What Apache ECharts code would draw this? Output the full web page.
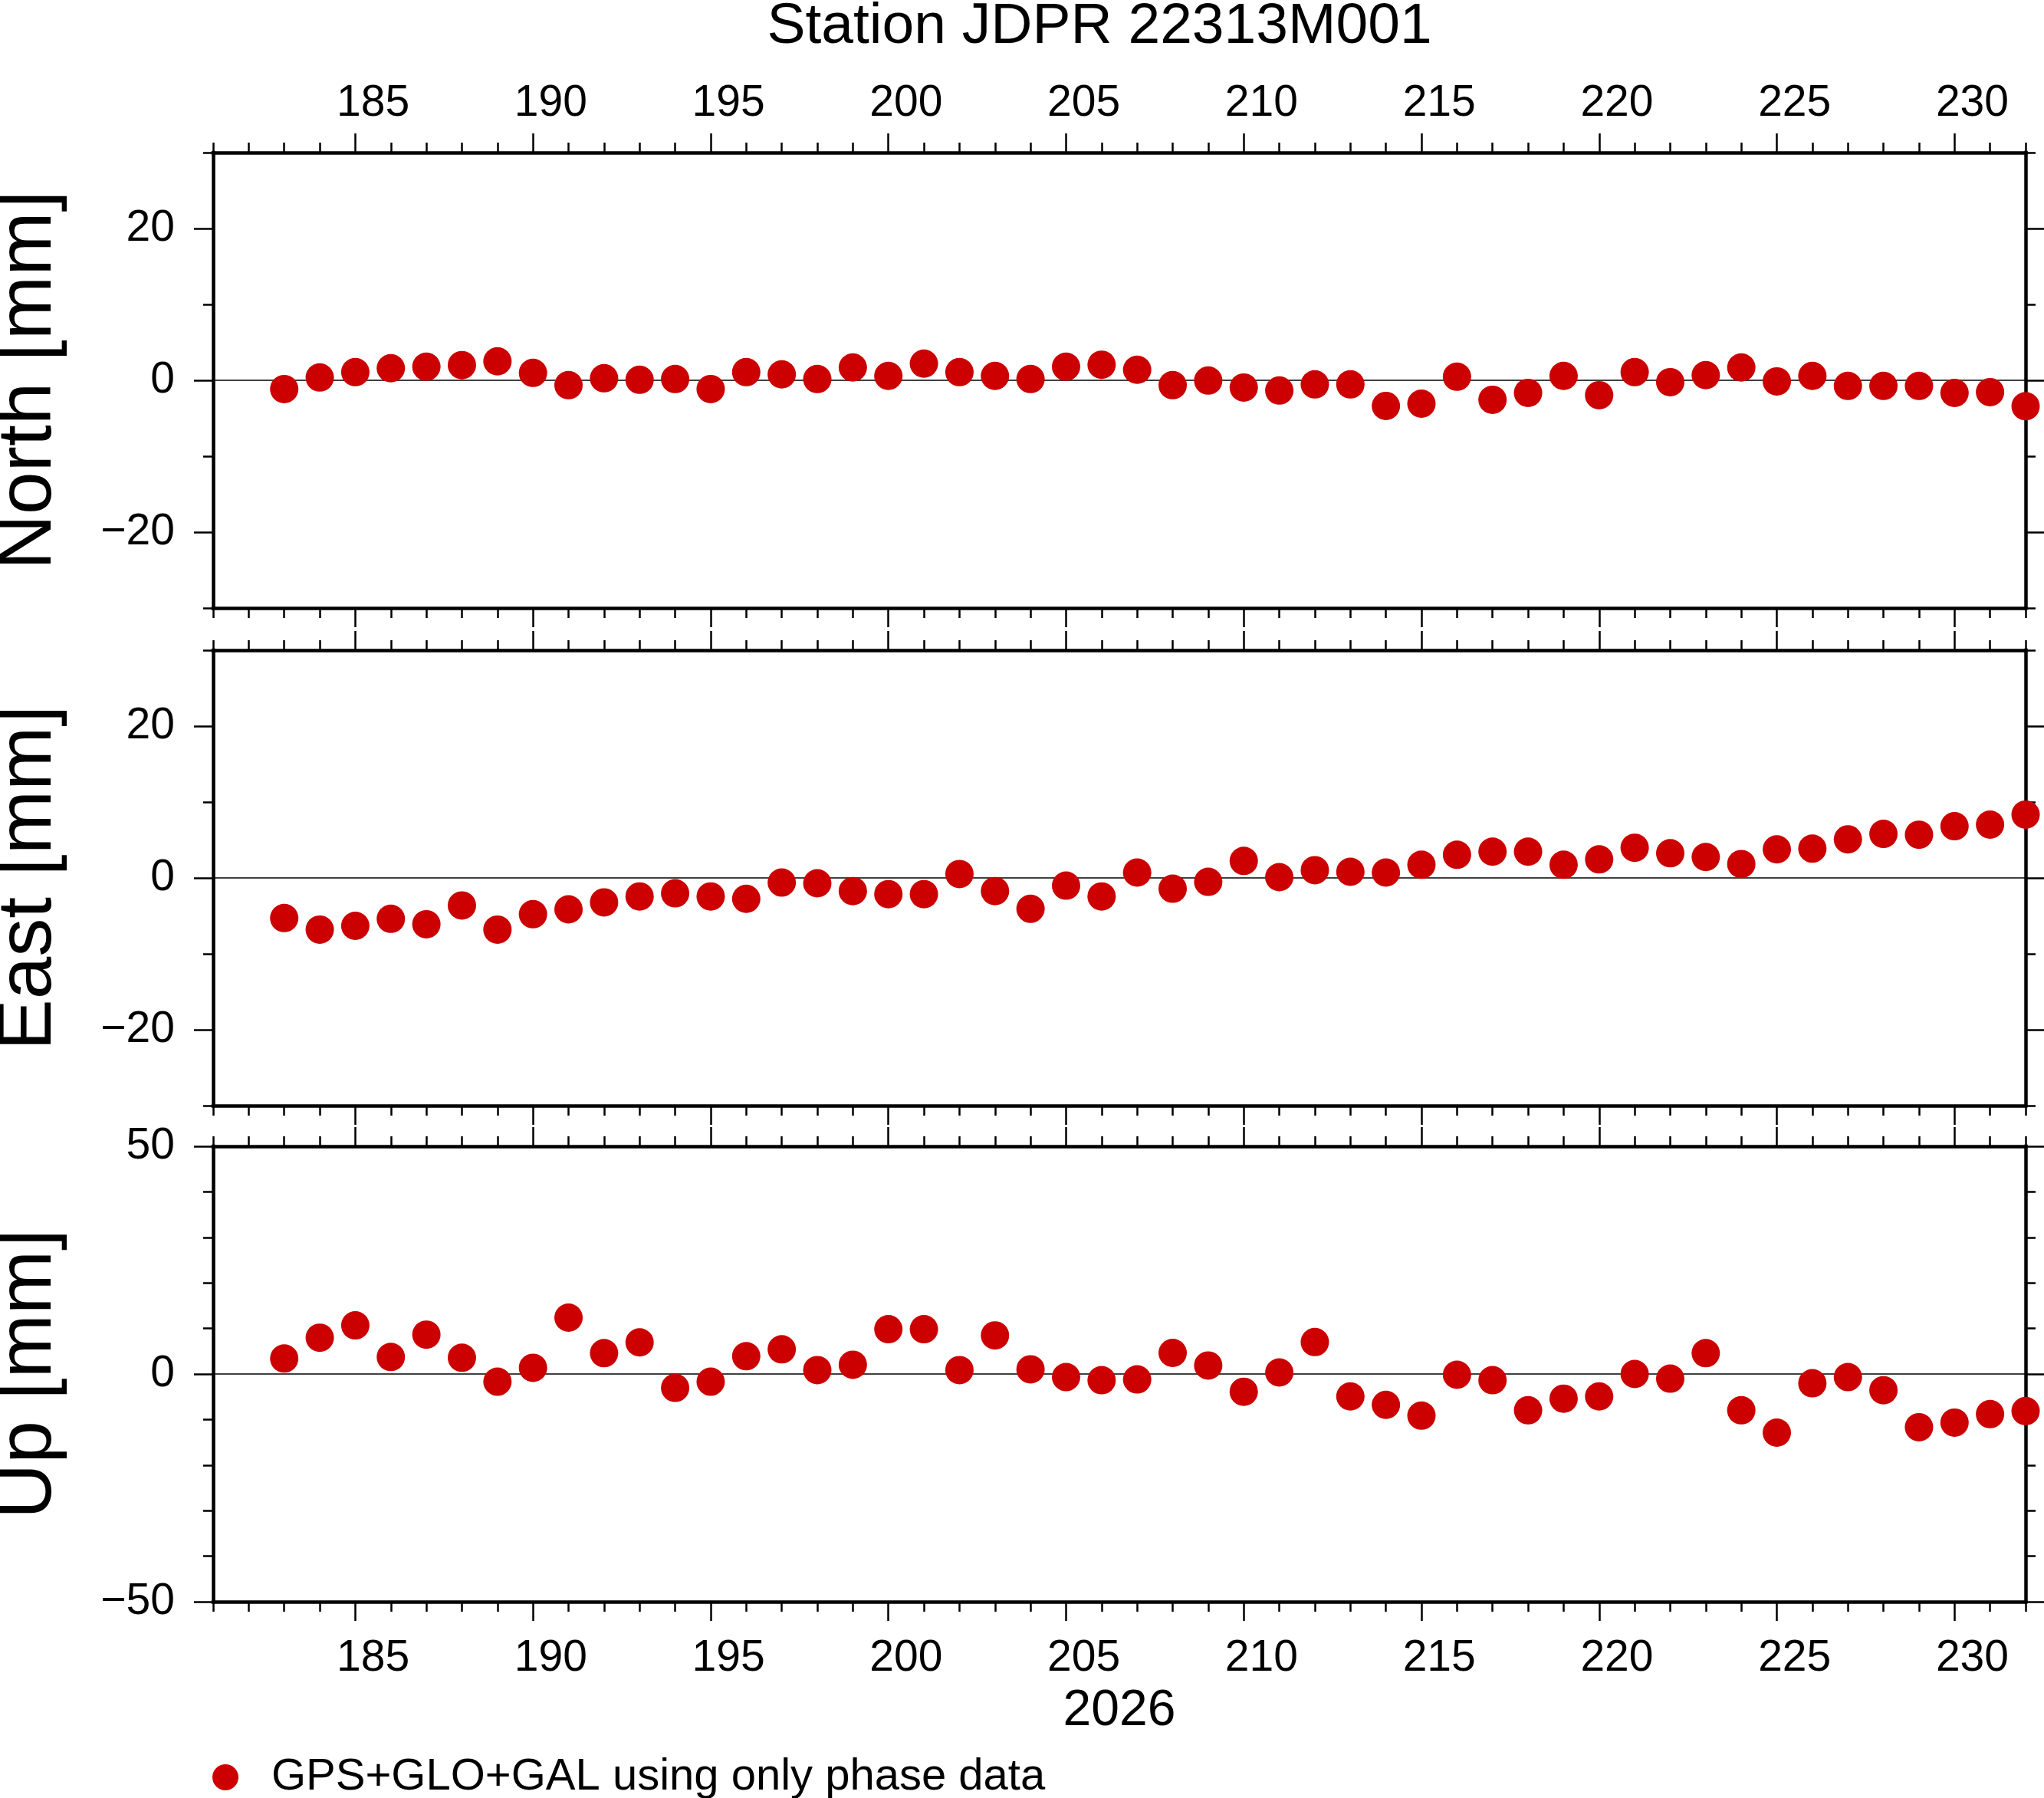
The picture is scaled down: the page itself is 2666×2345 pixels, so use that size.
<!DOCTYPE html>
<html>
<head>
<meta charset="utf-8">
<script src="https://cdn.jsdelivr.net/npm/echarts@6/dist/echarts.min.js"></script>
<style>
html, body { margin: 0; padding: 0; background: #fff; }
#chart { width: 2666px; height: 2345px; }
</style>
</head>
<body>
<div id="chart"></div>
<script>
// day of year 2026
var days = [183, 184, 185, 186, 187, 188, 189, 190, 191, 192,
            193, 194, 195, 196, 197, 198, 199, 200, 201, 202,
            203, 204, 205, 206, 207, 208, 209, 210, 211, 212,
            213, 214, 215, 216, 217, 218, 219, 220, 221, 222,
            223, 224, 225, 226, 227, 228, 229, 230, 231, 232];

// residuals in mm
var north = [-1.15, 0.37, 1.08, 1.59, 1.79, 2.0, 2.5, 0.98, -0.64, 0.27,
             0.07, 0.17, -1.15, 1.08, 0.78, 0.17, 1.69, 0.58, 2.2, 1.08,
             0.58, 0.17, 1.79, 2.05, 1.39, -0.64, -0.03, -0.95, -1.35, -0.54,
             -0.54, -3.38, -3.08, 0.47, -2.57, -1.66, 0.58, -1.96, 1.08, -0.24,
             0.68, 1.69, -0.14, 0.58, -0.74, -0.74, -0.74, -1.66, -1.56, -3.42];
var east = [-5.29, -6.81, -6.31, -5.39, -6.1, -3.63, -6.81, -4.78, -4.14, -3.22,
            -2.44, -2.03, -2.44, -2.75, -0.61, -0.71, -1.73, -2.14, -2.14, 0.51,
            -1.73, -4.07, -1.02, -2.44, 0.71, -1.42, -0.51, 2.24, 0.1, 1.02,
            0.81, 0.71, 1.73, 3.05, 3.46, 3.46, 1.73, 2.44, 3.97, 3.25,
            2.75, 1.83, 3.76, 3.86, 5.08, 5.8, 5.69, 6.81, 7.02, 8.34];
var up = [3.39, 7.97, 10.68, 3.73, 8.64, 3.56, -1.69, 1.36, 12.37, 4.58,
          6.95, -3.05, -1.69, 3.9, 5.42, 0.85, 2.03, 9.83, 9.83, 0.85,
          8.47, 1.02, -0.68, -1.36, -1.19, 4.63, 1.86, -3.9, 0.34, 7.01,
          -4.92, -6.78, -9.15, -0.17, -1.36, -7.97, -5.42, -4.92, 0.0, -1.02,
          4.58, -7.97, -12.88, -2.03, -0.68, -3.56, -11.69, -10.68, -8.81, -8.14];

var xTickLabels = [185, 190, 195, 200, 205, 210, 215, 220, 225, 230];
var northTicks = [-20, 0, 20];
var eastTicks = [-20, 0, 20];
var upTicks = [-50, 0, 50];

var titleText = 'Station JDPR 22313M001';
var yearText = '2026';
var seriesName = 'GPS+GLO+GAL using only phase data';

var FONT = '"Liberation Sans", Arial, Helvetica, sans-serif';
var RED = '#cc0000';
var X_MIN = 181, X_MAX = 232;
var GRID_LEFT = 278, GRID_RIGHT = 24, GRID_H = 594;
var LINE_W = 4.5, TICK_W = 2.5;

var panels = [
    { name: 'North [mm]', values: north, min: -30, max: 30, ticks: northTicks, top: 199 },
    { name: 'East [mm]', values: east, min: -30, max: 30, ticks: eastTicks, top: 848 },
    { name: 'Up [mm]', values: up, min: -50, max: 50, ticks: upTicks, top: 1495 }
];

function minus(v) {
    return String(v).replace('-', '\u2212');
}

var labelPos = xTickLabels.map(function (d) { return d + 0.5; });

var grids = [], xAxes = [], yAxes = [], series = [];

panels.forEach(function (p, i) {
    grids.push({
        left: GRID_LEFT, right: GRID_RIGHT, top: p.top, height: GRID_H,
        containLabel: false, outerBoundsMode: 'none'
    });

    ['bottom', 'top'].forEach(function (pos) {
        var showLabels = (pos === 'bottom' && i === 2) || (pos === 'top' && i === 0);
        // daily minor ticks + frame line (+ labels centred on the day)
        xAxes.push({
            gridIndex: i, type: 'value', position: pos,
            min: X_MIN, max: X_MAX, interval: 1,
            axisLine: { show: true, onZero: false, lineStyle: { color: '#000', width: LINE_W, cap: 'square' } },
            axisTick: { show: true, length: 13, lineStyle: { color: '#000', width: TICK_W } },
            axisLabel: showLabels ? {
                customValues: labelPos,
                formatter: function (v) { return String(Math.round(v - 0.5)); },
                fontSize: 57, fontFamily: FONT, color: '#000',
                margin: pos === 'top' ? 35 : 46
            } : { show: false },
            splitLine: { show: false },
            name: (pos === 'bottom' && i === 2) ? yearText : '',
            nameLocation: 'middle', nameGap: 110,
            nameTextStyle: { fontSize: 66, fontFamily: FONT, color: '#000' }
        });
        // 5-day major ticks
        xAxes.push({
            gridIndex: i, type: 'value', position: pos,
            min: X_MIN, max: X_MAX,
            axisLine: { show: false, onZero: false },
            axisTick: { show: true, customValues: xTickLabels, length: 25, lineStyle: { color: '#000', width: TICK_W } },
            axisLabel: { show: false },
            splitLine: { show: false }
        });
    });

    ['left', 'right'].forEach(function (pos) {
        yAxes.push({
            gridIndex: i, type: 'value', position: pos,
            min: p.min, max: p.max, interval: 10,
            axisLine: { show: true, onZero: false, lineStyle: { color: '#000', width: LINE_W, cap: 'square' } },
            axisTick: { show: true, length: 13, lineStyle: { color: '#000', width: TICK_W } },
            axisLabel: { show: false },
            splitLine: { show: false }
        });
        yAxes.push({
            gridIndex: i, type: 'value', position: pos,
            min: p.min, max: p.max,
            axisLine: { show: false, onZero: false },
            axisTick: { show: true, customValues: p.ticks, length: 25, lineStyle: { color: '#000', width: TICK_W } },
            axisLabel: pos === 'left' ? {
                customValues: p.ticks, formatter: minus,
                fontSize: 57, fontFamily: FONT, color: '#000', margin: 50
            } : { show: false },
            splitLine: { show: false },
            name: pos === 'left' ? p.name : '',
            nameLocation: 'middle', nameGap: 190, nameRotate: 90,
            nameTextStyle: { fontSize: 100, fontFamily: FONT, color: '#000' }
        });
    });

    var ax = i * 4, ay = i * 4;
    series.push({
        type: 'line', xAxisIndex: ax, yAxisIndex: ay,
        data: [[X_MIN, 0], [X_MAX, 0]],
        symbol: 'none', silent: true, z: 1,
        lineStyle: { color: '#000', width: 1.3 }
    });
    series.push({
        name: seriesName, type: 'scatter', xAxisIndex: ax, yAxisIndex: ay,
        data: days.map(function (d, k) { return [d, p.values[k]]; }),
        symbol: 'circle', symbolSize: 37, z: 3,
        itemStyle: { color: RED, opacity: 1 }
    });
});

var chart = echarts.init(document.getElementById('chart'), null, { renderer: 'canvas' });
chart.setOption({
    animation: false,
    backgroundColor: '#fff',
    graphic: [{
        type: 'text', x: 1434, y: 35,
        style: {
            text: titleText, fill: '#000',
            font: '75px ' + FONT,
            textAlign: 'center', textVerticalAlign: 'middle'
        }
    }],
    legend: {
        data: [{ name: seriesName, icon: 'circle' }],
        left: 277, top: 2289, padding: 0,
        itemWidth: 34, itemHeight: 34,
        textStyle: { fontSize: 58, fontFamily: FONT, color: '#000', padding: [0, 0, 0, 38] }
    },
    grid: grids,
    xAxis: xAxes,
    yAxis: yAxes,
    series: series
});
</script>
</body>
</html>
